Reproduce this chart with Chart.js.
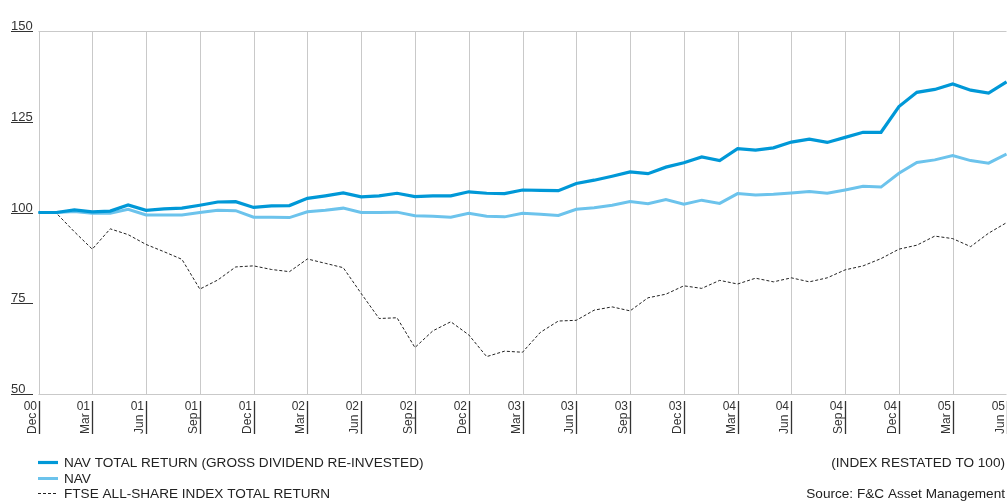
<!DOCTYPE html>
<html>
<head>
<meta charset="utf-8">
<script src="https://cdn.jsdelivr.net/npm/chart.js@4"></script>
<style>
  html, body { margin: 0; padding: 0; background: #fff; }
  #wrap { width: 1007px; height: 501px; }
</style>
</head>
<body>
<div id="wrap"><canvas id="navChart" width="1007" height="501"></canvas></div>
<script>
// monthly points, Dec 2000 - Jun 2005
const months = [
  "Dec 00",
  "Jan 01", "Feb 01", "Mar 01", "Apr 01", "May 01", "Jun 01", "Jul 01", "Aug 01", "Sep 01", "Oct 01", "Nov 01", "Dec 01",
  "Jan 02", "Feb 02", "Mar 02", "Apr 02", "May 02", "Jun 02", "Jul 02", "Aug 02", "Sep 02", "Oct 02", "Nov 02", "Dec 02",
  "Jan 03", "Feb 03", "Mar 03", "Apr 03", "May 03", "Jun 03", "Jul 03", "Aug 03", "Sep 03", "Oct 03", "Nov 03", "Dec 03",
  "Jan 04", "Feb 04", "Mar 04", "Apr 04", "May 04", "Jun 04", "Jul 04", "Aug 04", "Sep 04", "Oct 04", "Nov 04", "Dec 04",
  "Jan 05", "Feb 05", "Mar 05", "Apr 05", "May 05", "Jun 05"
];

const navTotalReturn = [
  100.0, 100.0, 100.7, 100.2, 100.4, 102.1, 100.6, 101.0, 101.2, 102.0, 102.9, 103.0, 101.4,
  101.8, 101.9, 103.9, 104.6, 105.4, 104.3, 104.6, 105.3, 104.4, 104.6, 104.6, 105.7,
  105.3, 105.2, 106.2, 106.1, 106.0, 108.0, 108.9, 110.0, 111.2, 110.7, 112.5, 113.7,
  115.3, 114.3, 117.6, 117.2, 117.8, 119.4, 120.2, 119.3, 120.7, 122.1, 122.1, 129.2,
  133.1, 133.9, 135.4, 133.7, 132.9, 136.0
];

const nav = [
  100.0, 100.0, 100.3, 99.8, 99.8, 100.9, 99.3, 99.3, 99.3, 100.0, 100.6, 100.5, 98.7,
  98.7, 98.6, 100.2, 100.6, 101.2, 100.0, 100.0, 100.1, 99.1, 99.0, 98.7, 99.8,
  99.0, 98.8, 99.8, 99.5, 99.2, 100.9, 101.3, 102.0, 103.0, 102.4, 103.6, 102.3,
  103.4, 102.5, 105.2, 104.8, 105.0, 105.4, 105.8, 105.3, 106.2, 107.2, 107.0, 110.8,
  113.8, 114.5, 115.7, 114.3, 113.6, 116.1
];

const ftseAllShare = [
  100.0, 99.8, 94.7, 89.9, 95.5, 93.9, 91.2, 89.2, 87.1, 78.9, 81.4, 85.0, 85.3,
  84.3, 83.7, 87.2, 86.0, 84.8, 77.7, 70.8, 71.0, 62.8, 67.4, 69.9, 66.3,
  60.3, 61.8, 61.5, 67.0, 70.1, 70.3, 73.1, 74.0, 72.9, 76.5, 77.5, 79.8,
  79.1, 81.3, 80.3, 81.9, 80.9, 82.0, 80.9, 82.0, 84.2, 85.3, 87.3, 89.9,
  91.0, 93.5, 92.8, 90.6, 94.3, 97.2
];

// quarterly tick labels on the x axis
const tickYears = ["00", "01", "01", "01", "01", "02", "02", "02", "02", "03", "03", "03", "03", "04", "04", "04", "04", "05", "05"];
const tickMonths = ["Dec", "Mar", "Jun", "Sep", "Dec", "Mar", "Jun", "Sep", "Dec", "Mar", "Jun", "Sep", "Dec", "Mar", "Jun", "Sep", "Dec", "Mar", "Jun"];
const yTicks = [150, 125, 100, 75, 50];

const FONT = '"Liberation Sans", Arial, Helvetica, sans-serif';
const GRID = "#c9c9c9";
const INK = "#333333";

// gridlines, y labels with underline, x labels and the legend block
const decorations = {
  id: "decorations",
  beforeDatasetsDraw(chart) {
    const { ctx, chartArea: a, scales } = chart;
    const x = scales.x, y = scales.y;
    ctx.save();
    ctx.strokeStyle = GRID;
    ctx.lineWidth = 1;
    tickMonths.forEach((m, k) => {
      const idx = months.indexOf(m + " " + tickYears[k]);
      const px = Math.round(x.getPixelForValue(idx)) + 0.5;
      ctx.beginPath();
      ctx.moveTo(px, a.top);
      ctx.lineTo(px, a.bottom);
      ctx.stroke();
    });
    [y.max, y.min].forEach(v => {
      const py = Math.round(y.getPixelForValue(v)) + 0.5;
      ctx.beginPath();
      ctx.moveTo(a.left, py);
      ctx.lineTo(a.right, py);
      ctx.stroke();
    });
    ctx.restore();
  },
  afterDraw(chart) {
    const { ctx, scales } = chart;
    const x = scales.x, y = scales.y;
    ctx.save();

    // y axis labels
    ctx.fillStyle = INK;
    ctx.strokeStyle = INK;
    ctx.lineWidth = 1;
    ctx.font = "13px " + FONT;
    ctx.textAlign = "left";
    ctx.textBaseline = "alphabetic";
    yTicks.forEach(v => {
      const py = Math.round(y.getPixelForValue(v));
      ctx.fillText(String(v), 11, py - 1);
      ctx.beginPath();
      ctx.moveTo(11, py + 0.5);
      ctx.lineTo(33, py + 0.5);
      ctx.stroke();
    });

    // x axis labels: year upright, month rotated, with a bar
    tickMonths.forEach((m, k) => {
      const idx = months.indexOf(m + " " + tickYears[k]);
      const px = Math.round(x.getPixelForValue(idx));
      ctx.lineWidth = 1.3;
      ctx.beginPath();
      ctx.moveTo(px + 0.5, 401);
      ctx.lineTo(px + 0.5, 434);
      ctx.stroke();
      ctx.font = "12px " + FONT;
      ctx.textAlign = "right";
      ctx.textBaseline = "alphabetic";
      ctx.fillText(tickYears[k], px - 2, 410);
      ctx.save();
      ctx.translate(px - 3, 434);
      ctx.rotate(-Math.PI / 2);
      ctx.textAlign = "left";
      ctx.fillText(m, 0, 0);
      ctx.restore();
    });

    // legend
    const rows = [462, 478, 493];
    ctx.font = "13.6px " + FONT;
    ctx.textAlign = "left";
    ctx.textBaseline = "middle";
    chart.data.datasets.forEach((ds, i) => {
      const ly = rows[i];
      ctx.save();
      ctx.strokeStyle = ds.borderColor;
      ctx.lineWidth = ds.borderWidth;
      ctx.setLineDash(ds.borderDash || []);
      ctx.beginPath();
      ctx.moveTo(38, ly + 0.5);
      ctx.lineTo(58, ly + 0.5);
      ctx.stroke();
      ctx.restore();
      ctx.fillStyle = "#222";
      ctx.fillText(ds.label, 64, ly + 1);
    });
    ctx.textAlign = "right";
    ctx.fillText("(INDEX RESTATED TO 100)", 1005, rows[0] + 1);
    ctx.fillText("Source: F&C Asset Management", 1005, rows[2] + 1);
    ctx.restore();
  }
};

const ctx = document.getElementById("navChart").getContext("2d");
new Chart(ctx, {
  type: "line",
  data: {
    labels: months,
    datasets: [
      {
        label: "NAV TOTAL RETURN (GROSS DIVIDEND RE-INVESTED)",
        data: navTotalReturn,
        borderColor: "#0098d7",
        borderWidth: 3.2,
        pointRadius: 0,
        tension: 0,
        clip: false,
        order: 1,
      },
      {
        label: "NAV",
        data: nav,
        borderColor: "#6cc3ec",
        borderWidth: 3,
        pointRadius: 0,
        tension: 0,
        clip: false,
        order: 2,
      },
      {
        label: "FTSE ALL-SHARE INDEX TOTAL RETURN",
        data: ftseAllShare,
        borderColor: "#222222",
        borderWidth: 1,
        borderDash: [3, 2],
        pointRadius: 0,
        tension: 0,
        clip: false,
        order: 3,
      },
    ],
  },
  options: {
    responsive: false,
    animation: false,
    layout: {
      padding: { left: 38.5, right: 0.5, top: 31, bottom: 107 },
    },
    scales: {
      x: { type: "category", display: false, offset: false },
      y: { display: false, min: 50, max: 150 },
    },
    plugins: {
      legend: { display: false },
      tooltip: { enabled: false },
    },
  },
  plugins: [decorations],
});
</script>
</body>
</html>
